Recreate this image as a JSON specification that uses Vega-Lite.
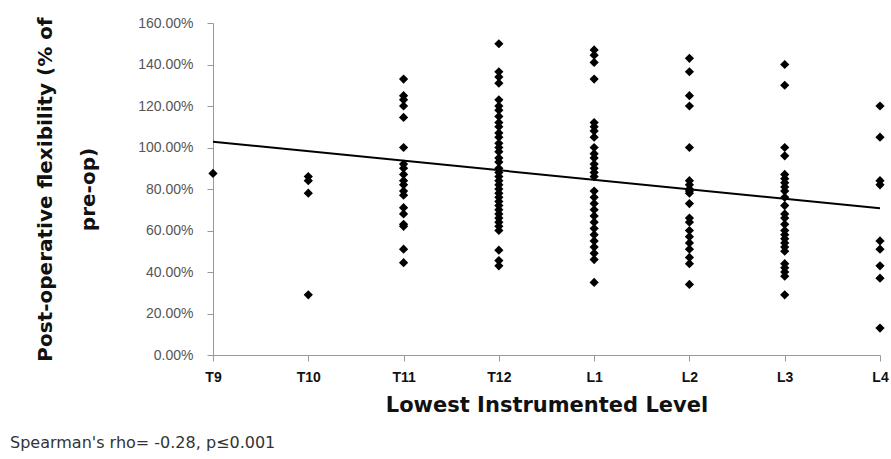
{
  "$schema": "https://vega.github.io/schema/vega-lite/v6.json",
  "autosize": "none",
  "width": 667,
  "height": 332,
  "padding": {"left": 213, "top": 23, "right": 11, "bottom": 104},
  "background": "white",
  "config": {
    "view": {"stroke": null},
    "font": "Liberation Sans"
  },
  "title": {
    "text": "Spearman's rho= -0.28, p≤0.001",
    "orient": "bottom",
    "anchor": "start",
    "frame": "group",
    "dx": -203,
    "offset": 20,
    "fontSize": 16,
    "fontWeight": "normal",
    "color": "#333333",
    "font": "DejaVu Sans"
  },
  "datasets": {
    "pts": [
      {"level": "T9", "value": 0.875},
      {"level": "T10", "value": 0.86}, {"level": "T10", "value": 0.84}, {"level": "T10", "value": 0.78}, {"level": "T10", "value": 0.29},
      {"level": "T11", "value": 1.33}, {"level": "T11", "value": 1.25}, {"level": "T11", "value": 1.23}, {"level": "T11", "value": 1.2}, {"level": "T11", "value": 1.145},
      {"level": "T11", "value": 1.0}, {"level": "T11", "value": 0.92}, {"level": "T11", "value": 0.9}, {"level": "T11", "value": 0.87}, {"level": "T11", "value": 0.84},
      {"level": "T11", "value": 0.82}, {"level": "T11", "value": 0.79}, {"level": "T11", "value": 0.77}, {"level": "T11", "value": 0.71}, {"level": "T11", "value": 0.68},
      {"level": "T11", "value": 0.63}, {"level": "T11", "value": 0.62}, {"level": "T11", "value": 0.51}, {"level": "T11", "value": 0.445},
      {"level": "T12", "value": 1.5}, {"level": "T12", "value": 1.365}, {"level": "T12", "value": 1.34}, {"level": "T12", "value": 1.31}, {"level": "T12", "value": 1.23},
      {"level": "T12", "value": 1.2}, {"level": "T12", "value": 1.18}, {"level": "T12", "value": 1.15}, {"level": "T12", "value": 1.12}, {"level": "T12", "value": 1.1},
      {"level": "T12", "value": 1.07}, {"level": "T12", "value": 1.05}, {"level": "T12", "value": 1.02}, {"level": "T12", "value": 1.0}, {"level": "T12", "value": 0.98},
      {"level": "T12", "value": 0.95}, {"level": "T12", "value": 0.93}, {"level": "T12", "value": 0.9}, {"level": "T12", "value": 0.88}, {"level": "T12", "value": 0.86},
      {"level": "T12", "value": 0.84}, {"level": "T12", "value": 0.82}, {"level": "T12", "value": 0.8}, {"level": "T12", "value": 0.78}, {"level": "T12", "value": 0.76},
      {"level": "T12", "value": 0.74}, {"level": "T12", "value": 0.72}, {"level": "T12", "value": 0.7}, {"level": "T12", "value": 0.68}, {"level": "T12", "value": 0.66},
      {"level": "T12", "value": 0.64}, {"level": "T12", "value": 0.62}, {"level": "T12", "value": 0.6}, {"level": "T12", "value": 0.505}, {"level": "T12", "value": 0.455},
      {"level": "T12", "value": 0.43},
      {"level": "L1", "value": 1.47}, {"level": "L1", "value": 1.445}, {"level": "L1", "value": 1.41}, {"level": "L1", "value": 1.33}, {"level": "L1", "value": 1.12},
      {"level": "L1", "value": 1.1}, {"level": "L1", "value": 1.08}, {"level": "L1", "value": 1.05}, {"level": "L1", "value": 1.0}, {"level": "L1", "value": 0.97},
      {"level": "L1", "value": 0.95}, {"level": "L1", "value": 0.92}, {"level": "L1", "value": 0.9}, {"level": "L1", "value": 0.88}, {"level": "L1", "value": 0.86},
      {"level": "L1", "value": 0.79}, {"level": "L1", "value": 0.76}, {"level": "L1", "value": 0.73}, {"level": "L1", "value": 0.7}, {"level": "L1", "value": 0.67},
      {"level": "L1", "value": 0.64}, {"level": "L1", "value": 0.61}, {"level": "L1", "value": 0.58}, {"level": "L1", "value": 0.55}, {"level": "L1", "value": 0.52},
      {"level": "L1", "value": 0.49}, {"level": "L1", "value": 0.46}, {"level": "L1", "value": 0.35},
      {"level": "L2", "value": 1.43}, {"level": "L2", "value": 1.365}, {"level": "L2", "value": 1.25}, {"level": "L2", "value": 1.2}, {"level": "L2", "value": 1.0},
      {"level": "L2", "value": 0.84}, {"level": "L2", "value": 0.82}, {"level": "L2", "value": 0.8}, {"level": "L2", "value": 0.79}, {"level": "L2", "value": 0.78},
      {"level": "L2", "value": 0.73}, {"level": "L2", "value": 0.66}, {"level": "L2", "value": 0.64}, {"level": "L2", "value": 0.6}, {"level": "L2", "value": 0.57},
      {"level": "L2", "value": 0.54}, {"level": "L2", "value": 0.51}, {"level": "L2", "value": 0.47}, {"level": "L2", "value": 0.44}, {"level": "L2", "value": 0.34},
      {"level": "L3", "value": 1.4}, {"level": "L3", "value": 1.3}, {"level": "L3", "value": 1.0}, {"level": "L3", "value": 0.96}, {"level": "L3", "value": 0.87},
      {"level": "L3", "value": 0.85}, {"level": "L3", "value": 0.83}, {"level": "L3", "value": 0.81}, {"level": "L3", "value": 0.79}, {"level": "L3", "value": 0.76},
      {"level": "L3", "value": 0.72}, {"level": "L3", "value": 0.68}, {"level": "L3", "value": 0.66}, {"level": "L3", "value": 0.63}, {"level": "L3", "value": 0.6},
      {"level": "L3", "value": 0.58}, {"level": "L3", "value": 0.56}, {"level": "L3", "value": 0.54}, {"level": "L3", "value": 0.52}, {"level": "L3", "value": 0.5},
      {"level": "L3", "value": 0.44}, {"level": "L3", "value": 0.42}, {"level": "L3", "value": 0.4}, {"level": "L3", "value": 0.38}, {"level": "L3", "value": 0.29},
      {"level": "L4", "value": 1.2}, {"level": "L4", "value": 1.05}, {"level": "L4", "value": 0.84}, {"level": "L4", "value": 0.82}, {"level": "L4", "value": 0.55},
      {"level": "L4", "value": 0.51}, {"level": "L4", "value": 0.43}, {"level": "L4", "value": 0.37}, {"level": "L4", "value": 0.13}
    ],
    "trend": [
      {"level": "T9", "fit": 1.028},
      {"level": "L4", "fit": 0.707}
    ]
  },
  "encoding": {
    "x": {
      "field": "level",
      "type": "ordinal",
      "sort": ["T9", "T10", "T11", "T12", "L1", "L2", "L3", "L4"],
      "scale": {"type": "point", "padding": 0, "domain": ["T9", "T10", "T11", "T12", "L1", "L2", "L3", "L4"]},
      "axis": {
        "title": "Lowest Instrumented Level",
        "titleFont": "DejaVu Sans",
        "titleFontSize": 21,
        "titleFontWeight": "bold",
        "titleColor": "#111111",
        "titleBaseline": "middle",
        "titleY": 50,
        "labelAngle": 0,
        "labelFontSize": 14,
        "labelFontWeight": "bold",
        "labelColor": "#111111",
        "labelPadding": 9,
        "tickSize": 6,
        "tickColor": "#999999",
        "domainColor": "#999999",
        "grid": false
      }
    }
  },
  "layer": [
    {
      "mark": {"type": "rule", "color": "#a0a0a0", "strokeWidth": 3},
      "encoding": {"y": {"datum": 0.2, "type": "quantitative"}}
    },
    {
      "data": {"name": "pts"},
      "mark": {"type": "point", "shape": "diamond", "filled": true, "color": "#000000", "size": 85, "opacity": 1},
      "encoding": {
        "y": {
          "field": "value",
          "type": "quantitative",
          "scale": {"domain": [0, 1.6], "nice": false},
          "axis": {
            "title": ["Post-operative flexibility (% of", "pre-op)"],
            "titleFont": "DejaVu Sans",
            "titleFontSize": 20,
            "titleFontWeight": "bold",
            "titleColor": "#111111",
            "titleLineHeight": 43,
            "titleAngle": -90,
            "titleAlign": "center",
            "titleBaseline": "middle",
            "titleX": -168,
            "titleY": 166,
            "values": [0, 0.2, 0.4, 0.6, 0.8, 1.0, 1.2, 1.4, 1.6],
            "format": ".2%",
            "labelFontSize": 14,
            "labelColor": "#555555",
            "labelPadding": 14,
            "tickSize": 6,
            "tickColor": "#999999",
            "domainColor": "#999999",
            "gridColor": "#a8a8a8",
            "gridWidth": 1.5
          }
        }
      }
    },
    {
      "data": {"name": "trend"},
      "mark": {"type": "line", "color": "#000000", "strokeWidth": 2},
      "encoding": {
        "y": {"field": "fit", "type": "quantitative"}
      }
    }
  ]
}
